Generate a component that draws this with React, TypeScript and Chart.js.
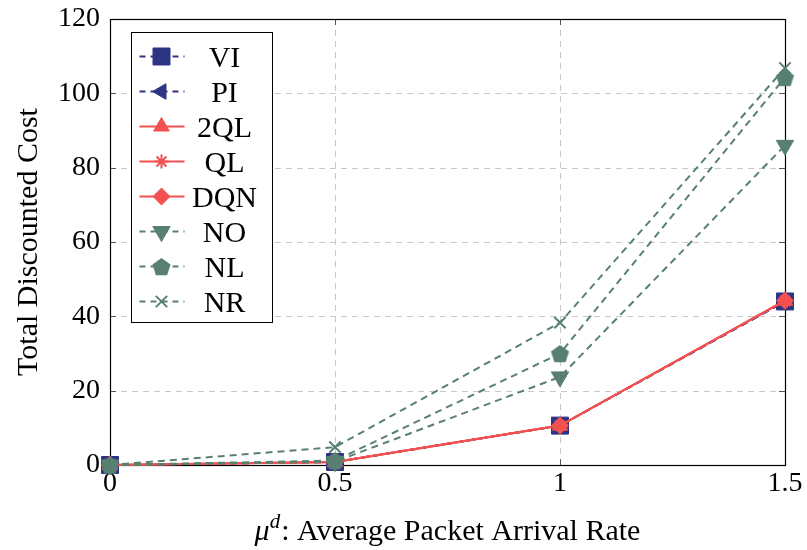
import React, { useEffect, useRef } from "react";
import { Chart, registerables } from "chart.js";
import { drawPoint } from "chart.js/helpers";

Chart.register(...registerables);

// ---- data ----
const xValues = [0, 0.5, 1, 1.5];
const viValues = [0, 0.8, 10.6, 44.0];
const piValues = [0, 0.8, 10.6, 44.0];
const ql2Values = [0, 0.8, 10.6, 44.2];
const qlValues = [0, 0.8, 10.6, 44.2];
const dqnValues = [0, 0.8, 10.6, 44.2];
const noValues = [0, 0.9, 23.7, 86.0];
const nlValues = [0, 1.2, 30.0, 104.3];
const nrValues = [0, 4.8, 38.3, 106.8];
const yTicks = [0, 20, 40, 60, 80, 100, 120];
const xTicks = [0, 0.5, 1, 1.5];
const xTickLabels = ["0", "0.5", "1", "1.5"];
const seriesNames = ["VI", "PI", "2QL", "QL", "DQN", "NO", "NL", "NR"];
const yTitle = "Total Discounted Cost";
const xTitleMain = ": Average Packet Arrival Rate";

const BLUE = "rgb(46,52,132)";
const RED = "rgb(243,80,80)";
const GREEN = "rgb(88,128,112)";
const FONT = "'Liberation Serif', 'Times New Roman', serif";
const FS = 28;
const FT = 30;

function makePentagon(color: string, r: number) {
  const size = Math.ceil(r * 2 + 2);
  const c = document.createElement("canvas");
  c.width = size;
  c.height = size;
  const ctx = c.getContext("2d")!;
  ctx.fillStyle = color;
  ctx.beginPath();
  const cx = size / 2;
  const cy = size / 2 + r * 0.1;
  for (let k = 0; k < 5; k++) {
    const a = -Math.PI / 2 + (k * 2 * Math.PI) / 5;
    const px = cx + r * Math.cos(a);
    const py = cy + r * Math.sin(a);
    if (k === 0) ctx.moveTo(px, py);
    else ctx.lineTo(px, py);
  }
  ctx.closePath();
  ctx.fill();
  return c;
}

export default function App() {
  const ref = useRef<HTMLCanvasElement | null>(null);

  useEffect(() => {
    const canvas = ref.current;
    if (!canvas) return;
    const pentagon = makePentagon(GREEN, 9.5);

    const specs = [
      { name: seriesNames[0], vals: viValues, color: BLUE, dashed: true, style: "rect", radius: 12, rotation: 0, bw: 1 },
      { name: seriesNames[1], vals: piValues, color: BLUE, dashed: true, style: "triangle", radius: 9, rotation: 270, bw: 1 },
      { name: seriesNames[2], vals: ql2Values, color: RED, dashed: false, style: "triangle", radius: 9, rotation: 0, bw: 1 },
      { name: seriesNames[3], vals: qlValues, color: RED, dashed: false, style: "star", radius: 7, rotation: 0, bw: 2 },
      { name: seriesNames[4], vals: dqnValues, color: RED, dashed: false, style: "rectRot", radius: 8.5, rotation: 0, bw: 1 },
      { name: seriesNames[5], vals: noValues, color: GREEN, dashed: true, style: "triangle", radius: 10, rotation: 180, bw: 1 },
      { name: seriesNames[6], vals: nlValues, color: GREEN, dashed: true, style: pentagon as any, radius: 9.5, rotation: 0, bw: 1 },
      { name: seriesNames[7], vals: nrValues, color: GREEN, dashed: true, style: "crossRot", radius: 8, rotation: 0, bw: 2 },
    ];

    const datasets = specs.map((s, i) => ({
      label: s.name,
      data: xValues.map((x, j) => ({ x, y: s.vals[j] })),
      borderColor: s.color,
      backgroundColor: s.color,
      borderWidth: 2,
      borderDash: s.dashed ? [7, 5] : [],
      pointStyle: s.style,
      pointRadius: s.radius,
      pointRotation: s.rotation,
      pointBackgroundColor: s.color,
      pointBorderColor: s.color,
      pointBorderWidth: s.bw,
      tension: 0,
      clip: false as any,
      order: specs.length - i,
    }));

    const framePlugin = {
      id: "frame",
      beforeDatasetsDraw(chart: any) {
        const { ctx, chartArea: a, scales } = chart;
        const xs = scales.x;
        const ys = scales.y;
        ctx.save();
        // grid
        ctx.strokeStyle = "#c8c8c8";
        ctx.lineWidth = 1;
        ctx.setLineDash([6, 5]);
        yTicks.forEach((v) => {
          if (v === yTicks[0] || v === yTicks[yTicks.length - 1]) return;
          const y = Math.round(ys.getPixelForValue(v)) + 0.5;
          ctx.beginPath();
          ctx.moveTo(a.left, y);
          ctx.lineTo(a.right, y);
          ctx.stroke();
        });
        xTicks.forEach((v) => {
          if (v === xTicks[0] || v === xTicks[xTicks.length - 1]) return;
          const x = Math.round(xs.getPixelForValue(v)) + 0.5;
          ctx.beginPath();
          ctx.moveTo(x, a.top);
          ctx.lineTo(x, a.bottom);
          ctx.stroke();
        });
        ctx.setLineDash([]);
        // inward ticks
        ctx.strokeStyle = "#555";
        const tl = 6;
        yTicks.forEach((v) => {
          const y = Math.round(ys.getPixelForValue(v)) + 0.5;
          ctx.beginPath();
          ctx.moveTo(a.left, y);
          ctx.lineTo(a.left + tl, y);
          ctx.moveTo(a.right, y);
          ctx.lineTo(a.right - tl, y);
          ctx.stroke();
        });
        xTicks.forEach((v) => {
          const x = Math.round(xs.getPixelForValue(v)) + 0.5;
          ctx.beginPath();
          ctx.moveTo(x, a.bottom);
          ctx.lineTo(x, a.bottom - tl);
          ctx.moveTo(x, a.top);
          ctx.lineTo(x, a.top + tl);
          ctx.stroke();
        });
        // box
        ctx.strokeStyle = "#000";
        ctx.lineWidth = 1.2;
        ctx.strokeRect(Math.round(a.left) + 0.5, Math.round(a.top) + 0.5, Math.round(a.right - a.left), Math.round(a.bottom - a.top));
        ctx.restore();
      },
      afterDatasetsDraw(chart: any) {
        const { ctx, chartArea: a } = chart;
        ctx.save();
        // legend
        const lx = a.left + 20.5;
        const ly = a.top + 13;
        const lw = 141;
        const lh = 290;
        ctx.fillStyle = "#fff";
        ctx.fillRect(lx, ly, lw, lh);
        ctx.strokeStyle = "#000";
        ctx.lineWidth = 1;
        ctx.strokeRect(Math.round(lx) + 0.5, Math.round(ly) + 0.5, lw, lh);
        specs.forEach((s, i) => {
          const cy = ly + 24.5 + i * 35;
          const x0 = lx + 9;
          const x1 = lx + 54;
          const mx = lx + 31;
          ctx.strokeStyle = s.color;
          ctx.lineWidth = 2;
          ctx.setLineDash(s.dashed ? [6, 5] : []);
          ctx.beginPath();
          ctx.moveTo(x0, cy);
          ctx.lineTo(x1, cy);
          ctx.stroke();
          ctx.setLineDash([]);
          ctx.fillStyle = s.color;
          ctx.strokeStyle = s.color;
          ctx.lineWidth = s.bw;
          drawPoint(ctx, { pointStyle: s.style, rotation: s.rotation, radius: s.radius, borderWidth: s.bw } as any, mx, cy);
          ctx.fillStyle = "#000";
          ctx.font = `${FT}px ${FONT}`;
          ctx.textAlign = "center";
          ctx.textBaseline = "alphabetic";
          ctx.fillText(s.name, lx + 94, cy + 10);
        });
        // y title
        ctx.fillStyle = "#000";
        ctx.font = `${FT}px ${FONT}`;
        ctx.save();
        ctx.translate(37, (a.top + a.bottom) / 2);
        ctx.rotate(-Math.PI / 2);
        ctx.textAlign = "center";
        ctx.textBaseline = "alphabetic";
        ctx.fillText(yTitle, 0, 0);
        ctx.restore();
        // x title: mu^d: ...
        const fMu = `italic ${FT}px ${FONT}`;
        const fSup = `italic ${Math.round(FT * 0.7)}px ${FONT}`;
        const fMain = `${FT}px ${FONT}`;
        ctx.font = fMu;
        const wMu = ctx.measureText("μ").width;
        ctx.font = fSup;
        const wSup = ctx.measureText("d").width;
        ctx.font = fMain;
        const wMain = ctx.measureText(xTitleMain).width;
        const total = wMu + wSup + 1 + wMain;
        let x = (a.left + a.right) / 2 - total / 2;
        const base = 540;
        ctx.textAlign = "left";
        ctx.textBaseline = "alphabetic";
        ctx.font = fMu;
        ctx.fillText("μ", x, base);
        x += wMu;
        ctx.font = fSup;
        ctx.fillText("d", x, base - 12);
        x += wSup + 1;
        ctx.font = fMain;
        ctx.fillText(xTitleMain, x, base);
        ctx.restore();
      },
    };

    const chart = new Chart(canvas, {
      type: "line",
      data: { datasets: datasets as any },
      options: {
        responsive: false,
        animation: false,
        events: [],
        layout: { padding: { top: 19, right: 22, left: 0, bottom: 0 } },
        plugins: { legend: { display: false }, tooltip: { enabled: false } },
        scales: {
          x: {
            type: "linear",
            min: 0,
            max: 1.5,
            grid: { display: false, drawTicks: false },
            border: { display: false },
            ticks: {
              font: { family: FONT, size: FS },
              color: "#000",
              padding: 2,
              autoSkip: false,
              maxRotation: 0,
              callback: (v: any) => {
                const idx = xTicks.indexOf(Number(v));
                return idx >= 0 ? xTickLabels[idx] : "";
              },
            },
            afterBuildTicks: (s: any) => {
              s.ticks = xTicks.map((v) => ({ value: v }));
            },
            afterFit: (s: any) => {
              s.height = 85;
              s.paddingLeft = 0;
              s.paddingRight = 0;
            },
          },
          y: {
            type: "linear",
            min: 0,
            max: 120,
            grid: { display: false, drawTicks: false },
            border: { display: false },
            ticks: {
              font: { family: FONT, size: FS },
              color: "#000",
              padding: 10,
              autoSkip: false,
            },
            afterBuildTicks: (s: any) => {
              s.ticks = yTicks.map((v) => ({ value: v }));
            },
            afterFit: (s: any) => {
              s.width = 110;
              s.paddingTop = 0;
              s.paddingBottom = 0;
            },
          },
        },
      },
      plugins: [framePlugin],
    });

    return () => {
      chart.destroy();
    };
  }, []);

  return (
    <div style={{ position: "fixed", left: 0, top: 0, width: 807, height: 550, background: "#fff" }}>
      <canvas ref={ref} width={807} height={550} />
    </div>
  );
}
